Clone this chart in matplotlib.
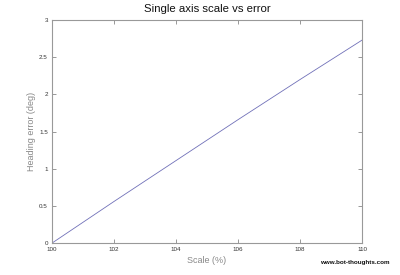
import matplotlib
matplotlib.use("Agg")
import matplotlib.pyplot as plt

scale = [100, 102, 104, 106, 108, 110]
error = [0.0, 0.56, 1.11, 1.66, 2.20, 2.73]
xticks = [100, 102, 104, 106, 108, 110]
yticks = [0, 0.5, 1, 1.5, 2, 2.5, 3]
ytick_labels = ["0", "0.5", "1", "1.5", "2", "2.5", "3"]

plt.rcParams['font.family'] = ['Liberation Sans', 'DejaVu Sans']
fig = plt.figure(figsize=(4.0, 2.75), dpi=100)
ax = fig.add_axes([0.13, 0.116, 0.775, 0.811])
ax.plot(scale, error, color='#7070b8', lw=0.6)
ax.set_xlim(100, 110)
ax.set_ylim(0, 3)
ax.set_xticks(xticks)
ax.set_xticklabels([str(t) for t in xticks])
ax.set_yticks(yticks)
ax.set_yticklabels(ytick_labels)
ax.tick_params(direction='in', length=3, width=0.6, colors='#888888',
               labelsize=4.5, labelcolor='#333333', top=True, right=True, pad=3)
for s in ax.spines.values():
    s.set_color('#999999')
    s.set_linewidth(0.8)
ax.set_title("Single axis scale vs error", fontsize=8.2, color='#111111', pad=6)
ax.set_xlabel("Scale (%)", fontsize=6.5, color='#888888', labelpad=3)
ax.set_ylabel("Heading error (deg)", fontsize=6.5, color='#888888', labelpad=2)
fig.text(0.975, 0.045, "www.bot-thoughts.com", fontsize=4.5, fontweight='bold',
         color='#111111', ha='right', va='center')
fig.savefig("out.png", dpi=100)
